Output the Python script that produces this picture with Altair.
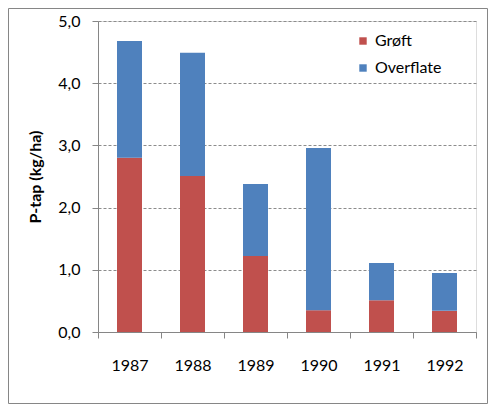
import altair as alt
import pandas as pd

years = ["1987", "1988", "1989", "1990", "1991", "1992"]
groft = [2.80, 2.51, 1.22, 0.35, 0.51, 0.34]
overflate = [1.88, 1.98, 1.16, 2.61, 0.60, 0.61]
series = ["Grøft", "Overflate"]
colors = ["#C0504D", "#4F81BD"]

rows = []
for i, y in enumerate(years):
    rows.append({"year": y, "serie": series[0], "value": groft[i], "ord": 0})
    rows.append({"year": y, "serie": series[1], "value": overflate[i], "ord": 1})
df = pd.DataFrame(rows)

FONT = "Lato"

bars = alt.Chart(df).mark_bar(size=25).encode(
    x=alt.X("year:N", title=None, sort=years,
            scale=alt.Scale(paddingInner=0, paddingOuter=0),
            axis=alt.Axis(labelAngle=0, tickBand="extent", tickSize=6,
                          labelPadding=19, labelFontSize=16, labelColor="#000000",
                          domainColor="#868686", tickColor="#868686",
                          labelFont=FONT)),
    y=alt.Y("value:Q", title="P-tap (kg/ha)", stack="zero",
            scale=alt.Scale(domain=[0, 5], nice=False),
            axis=alt.Axis(values=[0, 1, 2, 3, 4, 5],
                          labelExpr="replace(format(datum.value, '.1f'), '.', ',')",
                          tickSize=6, labelPadding=12, labelFontSize=16,
                          labelColor="#000000", labelFont=FONT,
                          domainColor="#868686", tickColor="#868686",
                          gridColor="#8c8c8c", gridDash=[3, 2], gridWidth=1,
                          titleFont=FONT, titleFontSize=16, titleFontWeight="bold",
                          titleColor="#000000", titlePadding=14)),
    color=alt.Color("serie:N", sort=series,
                    scale=alt.Scale(domain=series, range=colors),
                    legend=alt.Legend(title=None, orient="none", legendX=253, legendY=8,
                                      symbolType="square", symbolSize=55,
                                      labelFontSize=16, labelFont=FONT,
                                      labelColor="#000000", rowPadding=11,
                                      symbolStrokeWidth=0, fillColor="white",
                                      padding=4)),
    order=alt.Order("ord:Q"),
)

border = alt.Chart(pd.DataFrame({"a": [0]})).mark_rect(
    fill=None, stroke="#868686", strokeWidth=1, clip=False
).encode(
    x=alt.value(-89.5), x2=alt.value(389.5), y=alt.value(-12.5), y2=alt.value(382.5)
)

chart = alt.layer(border, bars).properties(
    width=378, height=311,
    padding={"left": 90, "top": 13, "right": 12, "bottom": 72},
    autosize=alt.AutoSizeParams(type="none"),
).configure_view(stroke=None).configure(background="white")

chart.save("out.html", embed_options={"renderer": "svg", "actions": False})
